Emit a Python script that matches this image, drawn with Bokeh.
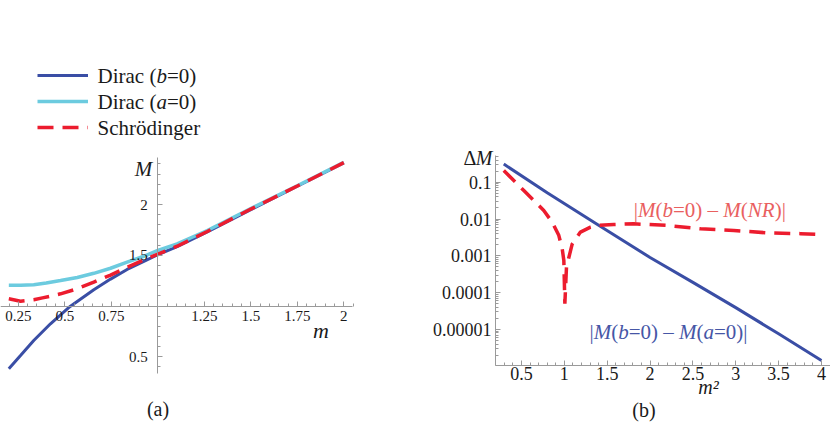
from bokeh.plotting import figure
from bokeh.models import (Range1d, LinearAxis, LogAxis, LogScale, FixedTicker, Label,
                          Legend, LegendItem)
from bokeh.layouts import row
from bokeh.embed import file_html
from bokeh.resources import INLINE

# ---------------- data: panel (a)  M versus m ----------------
m_dirac_b0 = [0.199, 0.262, 0.333, 0.423, 0.521, 0.656, 0.746, 0.835, 0.925, 1.0, 1.104, 1.266, 1.5, 1.75, 2.0]
M_dirac_b0 = [0.381, 0.512, 0.66, 0.825, 0.985, 1.16, 1.265, 1.36, 1.44, 1.505, 1.585, 1.73, 1.95, 2.18, 2.41]

m_dirac_a0 = [0.199, 0.262, 0.333, 0.40, 0.477, 0.567, 0.656, 0.746, 0.835, 0.925, 1.0, 1.104, 1.266, 1.5, 1.75, 2.0]
M_dirac_a0 = [1.205, 1.204, 1.21, 1.226, 1.251, 1.281, 1.322, 1.372, 1.432, 1.49, 1.547, 1.613, 1.744, 1.96, 2.185, 2.415]

m_schrod = [0.199, 0.262, 0.333, 0.38, 0.423, 0.477, 0.567, 0.656, 0.746, 0.835, 0.925, 1.0, 1.104, 1.266, 1.5, 1.75, 2.0]
M_schrod = [1.071, 1.047, 1.061, 1.08, 1.097, 1.12, 1.17, 1.235, 1.305, 1.38, 1.455, 1.51, 1.589, 1.734, 1.955, 2.182, 2.412]

a_xticks = [0.25, 0.5, 0.75, 1.25, 1.5, 1.75, 2.0]
a_xlabels = ["0.25", "0.5", "0.75", "1.25", "1.5", "1.75", "2"]
a_yticks = [0.5, 1.5, 2.0]
a_ylabels = ["0.5", "1.5", "2"]
legend_parts = [
    [("Dirac (", False), ("b", True), ("=0)", False)],
    [("Dirac (", False), ("a", True), ("=0)", False)],
    [("Schrödinger", False)],
]

# ---------------- data: panel (b)  Delta M versus m^2 ----------------
m2_dirac = [0.293, 0.8, 1.4, 2.0, 2.5, 3.0, 3.5, 4.0]
dM_dirac = [0.31, 0.052, 0.0068, 0.0009, 0.00019, 3.9e-5, 7.6e-6, 1.43e-6]

m2_nr = [0.293, 0.41, 0.527, 0.644, 0.76, 0.858, 0.935, 0.975, 0.994, 1.006, 1.025, 1.092,
         1.188, 1.305, 1.402, 1.577, 1.81, 2.2, 2.589, 2.977, 3.367, 3.756, 4.0]
dM_nr = [0.208, 0.111, 0.0594, 0.0318, 0.017, 0.0082, 0.0036, 0.00155, 0.00075, 0.00005, 0.0005, 0.0021,
         0.0044, 0.006, 0.0067, 0.0071, 0.0074, 0.0067, 0.0054, 0.0049, 0.0042, 0.004, 0.0038]

b_xticks = [0.5, 1.0, 1.5, 2.0, 2.5, 3.0, 3.5, 4.0]
b_xlabels = ["0.5", "1", "1.5", "2", "2.5", "3", "3.5", "4"]
b_yticks = [1e-5, 1e-4, 1e-3, 1e-2, 1e-1]
b_ylabels = ["0.00001", "0.0001", "0.001", "0.01", "0.1"]

# ---------------- style ----------------
FONT = "Liberation Serif"
BLUE = "#3a4ea5"
LBLUE = "#6ccbdf"
RED = "#ec1c2e"
AXC = "#9a9a9a"
TXT = "#1a1a1a"

ROMAN = {'|': 0.2, '(': 0.333, ')': 0.333, '=': 0.564, '0': 0.5, '–': 0.5, ' ': 0.25, 'Δ': 0.612,
         'D': 0.722, 'i': 0.278, 'r': 0.333, 'a': 0.444, 'c': 0.444}
ITAL = {'M': 0.833, 'b': 0.5, 'N': 0.667, 'R': 0.611, 'a': 0.5}

WA, WB, H = 413, 417, 423


def A(X, Y):  # page pixel -> panel (a) data
    return 1 + (X - 157.3) / 186.0, 1 + (305.5 - Y) / 101.5


def B(X, Y):  # page pixel -> panel (b) data
    return 0.5 + (X - 521.0) / 85.7, 10 ** (-1 + (181.7 - Y) / 36.8)


def rich(p, xy, parts, size, color):
    x, y = xy
    off = 0.0
    for i, (txt, it) in enumerate(parts):
        p.add_layout(Label(x=x, y=y, x_offset=off, text=txt, text_font=FONT,
                           text_font_style="italic" if it else "normal",
                           text_font_size=f"{size}px", text_color=color,
                           text_align="left", text_baseline="middle"))
        if i < len(parts) - 1:
            off += sum((ITAL if it else ROMAN)[c] for c in txt) * size


def style_axis(ax, size, standoff):
    ax.axis_line_color = AXC
    ax.axis_line_width = 1
    ax.major_tick_line_color = AXC
    ax.minor_tick_line_color = AXC
    ax.major_tick_in = 5
    ax.major_tick_out = 0
    ax.minor_tick_in = 3
    ax.minor_tick_out = 0
    ax.major_label_text_font = FONT
    ax.major_label_text_font_size = f"{size}px"
    ax.major_label_text_color = TXT
    ax.major_label_standoff = standoff


def centered(p, xy, text, size, italic=False):
    x, y = xy
    p.add_layout(Label(x=x, y=y, text=text, text_font=FONT,
                       text_font_style="italic" if italic else "normal",
                       text_font_size=f"{size}px", text_color=TXT,
                       text_align="center", text_baseline="middle"))


# ---------------- panel (a) ----------------
x0, y1 = A(0, 0)
x1, y0 = A(WA, H)
pa = figure(width=WA, height=H, x_range=Range1d(x0, x1), y_range=Range1d(y0, y1),
            x_axis_type=None, y_axis_type=None, output_backend="svg",
            toolbar_location=None, min_border=0)
pa.outline_line_color = None

xa = LinearAxis(fixed_location=1.0, bounds=(0.15, 2.045),
                ticker=FixedTicker(ticks=a_xticks,
                                   minor_ticks=[round(0.2 + 0.05 * i, 2) for i in range(38)]),
                major_label_overrides=dict(zip(a_xticks, a_xlabels)))
style_axis(xa, 15, 5)
pa.add_layout(xa, "below")
ya = LinearAxis(fixed_location=1.0, bounds=(0.335, 2.463),
                ticker=FixedTicker(ticks=a_yticks,
                                   minor_ticks=[round(0.4 + 0.1 * i, 2) for i in range(21)]),
                major_label_overrides=dict(zip(a_yticks, a_ylabels)))
style_axis(ya, 15, 10)
pa.add_layout(ya, "left")

r1 = pa.line(m_dirac_b0, M_dirac_b0, line_color=BLUE, line_width=3)
r2 = pa.line(m_dirac_a0, M_dirac_a0, line_color=LBLUE, line_width=3.5)
r3 = pa.line(m_schrod, M_schrod, line_color=RED, line_width=3.5, line_dash="16 9")

# legend: swatches from Bokeh's Legend, texts as rich labels (italic b / a)
leg = Legend(items=[LegendItem(label=" ", renderers=[r1]),
                    LegendItem(label=" ", renderers=[r2]),
                    LegendItem(label=" ", renderers=[r3])],
             location=(37, H - 62 - 78), orientation="vertical",
             label_text_font=FONT, label_text_font_size="21px", label_text_color=TXT,
             glyph_width=51, glyph_height=26, label_height=26, label_standoff=9,
             spacing=0, padding=0, margin=0, border_line_color=None,
             background_fill_alpha=0)
pa.add_layout(leg)
for k, parts in enumerate(legend_parts):
    rich(pa, A(97, 75 + 26 * k), parts, 21, TXT)

centered(pa, A(143, 168), "M", 21, italic=True)
centered(pa, A(320.5, 330), "m", 22, italic=True)
centered(pa, A(157.5, 408), "(a)", 20)

# ---------------- panel (b) ----------------
bx0, by1 = B(WA, 0)
bx1, by0 = B(WA + WB, H)
pb = figure(width=WB, height=H, x_range=Range1d(bx0, bx1), y_range=Range1d(by0, by1),
            x_axis_type=None, y_axis_type=None, y_axis_location=None,
            output_backend="svg", toolbar_location=None, min_border=0)
pb.y_scale = LogScale()
pb.outline_line_color = None

_, yaxis_pos = B(0, 365)
xpos, _ = B(495, 0)
_, ytop = B(0, 155)
xb = LinearAxis(fixed_location=yaxis_pos, bounds=(xpos, 4.1),
                ticker=FixedTicker(ticks=b_xticks,
                                   minor_ticks=[round(0.2 + 0.1 * i, 2) for i in range(40)]),
                major_label_overrides=dict(zip(b_xticks, b_xlabels)))
style_axis(xb, 18, 1)
pb.add_layout(xb, "below")
yminor = [k * 10.0 ** n for n in range(-6, 0) for k in range(2, 10) if k * 10.0 ** n < 0.55]
yb = LogAxis(fixed_location=xpos, bounds=(yaxis_pos, ytop),
             ticker=FixedTicker(ticks=b_yticks, minor_ticks=yminor),
             major_label_overrides=dict(zip(b_yticks, b_ylabels)))
style_axis(yb, 18, 4)
pb.add_layout(yb, "left")

pb.line(m2_dirac, dM_dirac, line_color=BLUE, line_width=3)
pb.line(m2_nr, dM_nr, line_color=RED, line_width=3.5, line_dash="16 9")

rich(pb, B(463, 157), [("Δ", False), ("M", True)], 20, TXT)
centered(pb, B(708, 386), "m²", 20, italic=True)
centered(pb, B(643.5, 409), "(b)", 20)

rich(pb, B(633.3, 209.5),
     [("|", False), ("M", True), ("(", False), ("b", True), ("=0) – ", False),
      ("M", True), ("(", False), ("NR", True), (")|", False)], 21, "#e9605f")
rich(pb, B(589, 331),
     [("|", False), ("M", True), ("(", False), ("b", True), ("=0) – ", False),
      ("M", True), ("(", False), ("a", True), ("=0)|", False)], 21, "#4656a6")

layout = row(pa, pb)
open("out.html", "w").write(file_html(layout, INLINE))
